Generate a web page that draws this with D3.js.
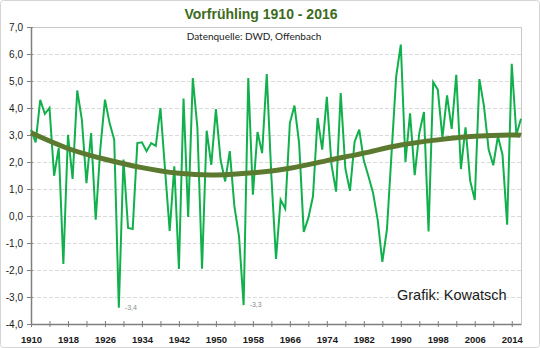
<!DOCTYPE html>
<html>
<head>
<meta charset="utf-8">
<script src="https://cdn.jsdelivr.net/npm/d3@7"></script>
<style>
  html, body { margin: 0; padding: 0; background: #ffffff; }
  svg { display: block; }
</style>
</head>
<body>
<svg id="chart" width="540" height="348"></svg>
<script>
// ---- data ----
const years = d3.range(1910, 2017);
const values = [
  3.2, 2.73, 4.3, 3.78, 4.0, 1.49, 2.52, -1.78, 3.01, 1.37,
  4.65, 3.57, 1.22, 3.07, -0.14, 2.5, 4.31, 3.44, 2.83, -3.4,
  2.09, -0.44, -0.48, 2.7, 2.73, 2.4, 2.7, 2.6, 4.0, 1.72,
  -0.55, 1.84, -1.96, 4.35, -0.04, 5.11, 3.26, -1.95, 3.16, 1.89,
  3.96, 2.09, 1.28, 2.4, 0.36, -0.75, -3.3, 5.11, 0.79, 3.11,
  2.33, 5.26, 1.47, -1.59, 0.6, 0.27, 3.44, 4.09, 2.7, -0.59,
  -0.07, 0.73, 3.63, 2.46, 4.41, 1.9, 0.9, 4.55, 1.76, 0.93,
  2.74, 3.2, 2.05, 1.47, 0.85, -0.14, -1.7, -0.5, 2.33, 5.17,
  6.35, 2.0, 3.8, 1.51, 3.07, 3.85, -0.57, 4.96, 4.68, 2.89,
  4.47, 3.23, 5.23, 1.74, 3.28, 1.31, 0.59, 5.07, 4.06, 2.46,
  1.88, 2.95, 2.27, -0.32, 5.64, 3.01, 3.6
];
// polynomial trend line
const trendYears = [1910, 1918, 1926, 1934, 1942, 1950, 1958, 1966, 1974, 1982, 1990, 1998, 2006, 2014, 2016];
const trendValues = [3.08, 2.5, 2.1, 1.79, 1.58, 1.52, 1.6, 1.77, 2.05, 2.33, 2.63, 2.82, 2.95, 3.0, 2.99];
const yTicks = [-4, -3, -2, -1, 0, 1, 2, 3, 4, 5, 6, 7];
const xLabelYears = [1910, 1918, 1926, 1934, 1942, 1950, 1958, 1966, 1974, 1982, 1990, 1998, 2006, 2014];
const xTickYears = d3.range(1910, 2017, 4);
const annotations = [{year: 1929, value: -3.4, label: "-3,4"}, {year: 1956, value: -3.3, label: "-3,3"}];
const title = "Vorfrühling 1910 - 2016";
const subtitle = "Datenquelle: DWD, Offenbach";
const credit = "Grafik: Kowatsch";

// ---- layout ----
const W = 540, H = 348;
const plot = {left: 31, top: 27, right: 521, bottom: 324};
const svg = d3.select("#chart");

const x = d3.scaleLinear().domain([1910, 2016]).range([plot.left, plot.right]);
const y = d3.scaleLinear().domain([-4, 7]).range([plot.bottom, plot.top]);
const fmt = v => d3.format(".1f")(v).replace(".", ",").replace("\u2212", "-");

// outer chart border
svg.append("rect").attr("x", 0.5).attr("y", 0.5).attr("width", W - 1).attr("height", H - 1)
  .attr("rx", 3).attr("fill", "#ffffff").attr("stroke", "#d4d4d4").attr("stroke-width", 1);

// plot border (top & right)
svg.append("path")
  .attr("d", `M${plot.left},${plot.top + 0.5}H${plot.right + 0.5}V${plot.bottom}`)
  .attr("fill", "none").attr("stroke", "#c8c8c8").attr("stroke-width", 1);

// gridlines
svg.append("g").selectAll("line").data(yTicks.filter(t => t > -4 && t < 7)).join("line")
  .attr("x1", plot.left).attr("x2", plot.right)
  .attr("y1", d => Math.round(y(d)) + 0.5).attr("y2", d => Math.round(y(d)) + 0.5)
  .attr("stroke", "#dadada").attr("stroke-width", 1).attr("stroke-dasharray", "4,2");

// y axis
const yAxis = svg.append("g").attr("transform", `translate(${plot.left},0)`)
  .call(d3.axisLeft(y).tickValues(yTicks).tickFormat(fmt).tickSizeInner(4).tickSizeOuter(0).tickPadding(4));
yAxis.select(".domain").attr("stroke", "#7f7f7f").attr("stroke-width", 1.5);
yAxis.selectAll(".tick line").attr("stroke", "#7f7f7f").attr("x1", 2);
yAxis.selectAll(".tick text").attr("font-family", "Liberation Sans, Arial, sans-serif")
  .attr("font-size", "10px").attr("fill", "#1a1a1a");

// x axis
const xAxis = svg.append("g").attr("transform", `translate(0,${plot.bottom})`)
  .call(d3.axisBottom(x).tickValues(xTickYears).tickFormat(d => xLabelYears.includes(d) ? String(d) : "")
    .tickSizeInner(3).tickSizeOuter(0).tickPadding(9));
xAxis.select(".domain").attr("stroke", "#7f7f7f").attr("stroke-width", 1.5);
xAxis.selectAll(".tick line").attr("stroke", "#7f7f7f").attr("y1", -3).attr("y2", 3);
xAxis.selectAll(".tick text").attr("font-family", "Liberation Sans, Arial, sans-serif")
  .attr("font-size", "9.5px").attr("font-weight", "bold").attr("fill", "#1a1a1a");

// data line
const line = d3.line().x((d, i) => x(years[i])).y(d => y(d));
svg.append("path").datum(values)
  .attr("d", line)
  .attr("fill", "none").attr("stroke", "#12b04c").attr("stroke-width", 2)
  .attr("stroke-linejoin", "miter");

// trend line
const tline = d3.line().x((d, i) => x(trendYears[i])).y(d => y(d)).curve(d3.curveNatural);
svg.append("path").datum(trendValues)
  .attr("d", tline)
  .attr("fill", "none").attr("stroke", "#5c7a2f").attr("stroke-width", 5)
  .attr("stroke-linecap", "butt");

// annotations
svg.append("g").selectAll("text").data(annotations).join("text")
  .attr("x", d => x(d.year) + 6).attr("y", d => y(d.value) + 2)
  .attr("font-family", "Liberation Sans, Arial, sans-serif").attr("font-size", "7px")
  .attr("fill", "#8a8a8a").text(d => d.label);

// title
svg.append("text").attr("x", 261).attr("y", 19).attr("text-anchor", "middle")
  .attr("font-family", "Liberation Sans, Arial, sans-serif").attr("font-size", "14px")
  .attr("font-weight", "bold").attr("fill", "#3e6b21").text(title);

// subtitle
svg.append("text").attr("x", 254).attr("y", 39.5).attr("text-anchor", "middle")
  .attr("font-family", "Lato, sans-serif").attr("font-size", "10px")
  .attr("fill", "#1a1a1a").text(subtitle);

// credit
svg.append("text").attr("x", 397).attr("y", 300).attr("text-anchor", "start")
  .attr("font-family", "Liberation Sans, Arial, sans-serif").attr("font-size", "14.5px")
  .attr("fill", "#1a1a1a").text(credit);
</script>
</body>
</html>
